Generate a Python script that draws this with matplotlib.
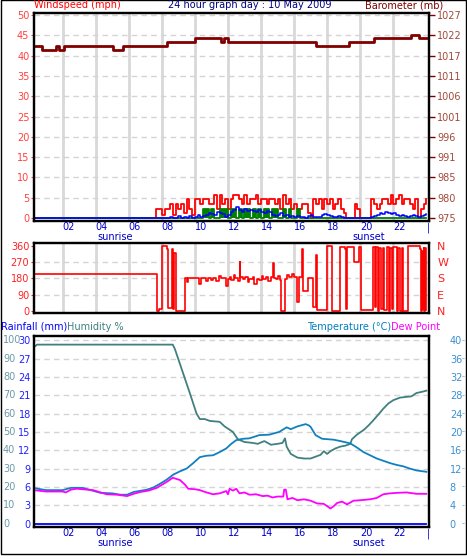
import numpy as np
import matplotlib
matplotlib.use('Agg')
import matplotlib.pyplot as plt
from matplotlib.patches import Rectangle
import matplotlib.transforms as mtransforms

# wind (mph), 10 minute samples 07:30 - 24:00 (calm before that)
wind_hours = np.linspace(7.5, 24, 100)
gust = [0, 2.3, 2.3, 0.8, 2.3, 2.3, 3.5, 0.8, 3.5, 2.3, 3.5, 1.2,
        4.6, 2.3, 0.8, 4.6, 4.6, 3.5, 4.6, 4.6, 3.5, 3.5, 5.7, 2.3,
        5.7, 3.5, 4.6, 2.3, 4.6, 5.7, 5.7, 4.6, 3.5, 5.7, 3.5, 4.6,
        4.6, 5.7, 3.5, 4.6, 4.6, 3.5, 4.6, 4.6, 3.5, 4.6, 2.3, 5.7,
        3.5, 4.6, 2.3, 3.5, 2.3, 2.3, 3.5, 3.5, 1.2, 0, 4.6, 3.5,
        4.6, 2.3, 4.6, 3.5, 4.6, 2.3, 3.5, 4.6, 2.3, 1.2, 0, 0,
        0, 3.5, 2.3, 0, 0, 0, 0, 4.6, 3.5, 2.3, 3.5, 4.6,
        4.6, 3.5, 5.7, 3.5, 4.6, 5.7, 3.5, 4.6, 4.6, 3.5, 2.3, 4.6,
        0, 2.3, 3.5, 4.6]
avg_speed = [0, 0, 0, 0, 0, 0, 0.3, 0, 0, 0.5, 0, 0.3,
             0, 0.5, 0, 0.3, 0.8, 0.3, 0.5, 0.8, 1.2, 1.0, 0.8, 1.5,
             1.2, 1.0, 0.3, 0.8, 1.5, 2.0, 2.8, 2.0, 1.5, 2.3, 1.8, 2.0,
             1.8, 1.5, 2.0, 1.5, 1.2, 1.8, 1.5, 0.8, 0.5, 0.8, 1.2, 0.5,
             0.8, 0.3, 0.5, 0.2, 0.5, 0.3, 0.2, 0, 0.5, 0.8, 0.3, 0.2,
             0.3, 0.8, 1.0, 0.8, 0.5, 0.3, 0.2, 0.5, 0.3, 0, 0, 0,
             0, 0, 0, 0, 0, 0, 0, 0.3, 0.5, 0.8, 1.2, 1.0,
             1.5, 1.2, 1.0, 1.2, 0.8, 0.5, 0.8, 0.5, 0.3, 0.5, 0.8, 0.5,
             0.3, 0.5, 0.8, 1.0]
wind_low = [0, 0, 0, 0, 0, 0, 0, 0, 0, 0, 0, 0,
            0, 0, 0, 0, 0, 0, 2.3, 2.3, 0, 2.3, 0, 0,
            2.3, 2.3, 2.3, 0, 2.3, 2.3, 0, 2.3, 0, 2.3, 2.3, 0,
            2.3, 0, 2.3, 0, 2.3, 2.3, 0, 2.3, 2.3, 0, 0, 2.3,
            0, 2.3, 0, 0, 2.3, 0, 0, 0, 0, 0, 0, 0,
            0, 0, 0, 0, 0, 0, 0, 0, 0, 0, 0, 0,
            0, 0, 0, 0, 0, 0, 0, 0, 0, 0, 0, 0,
            0, 0, 0, 0, 0, 0, 0, 0, 0, 0, 0, 0,
            0, 0, 0, 0]

# barometer (mb), change points
baro_hours = [0, 0.73, 1.60, 1.80, 2.10, 5.06, 5.63, 8.29, 10.0, 11.56,
              11.78, 11.98, 17.33, 19.32, 20.83, 23.07, 23.58, 24.2]
baro = [1019, 1018, 1019, 1018, 1019, 1018, 1019, 1020, 1021, 1020,
        1021, 1020, 1019, 1020, 1021, 1022, 1021, 1021]

# wind direction (deg), change points
dir_hours = [0, 7.73, 7.85, 7.99, 8.29, 8.36, 8.6, 8.66, 8.72, 8.85, 9.4,
             9.5, 9.6, 10.25, 10.4, 10.7, 10.8, 10.95, 11.1, 11.3, 11.45,
             11.55, 11.9, 12.0, 12.1, 12.2, 12.35, 12.45, 12.6, 12.7, 12.75,
             12.9, 13.05, 13.2, 13.3, 13.5, 13.6, 13.75, 13.9, 14.05, 14.15,
             14.3, 14.45, 14.6, 14.72, 14.78, 14.9, 15.05, 15.15, 15.23, 15.45,
             15.6, 15.7, 15.85, 16.0, 16.2, 16.3, 16.5, 16.55, 16.86, 17.16,
             17.33, 17.4, 17.97, 18.27, 18.78, 19.08, 19.15, 19.2, 19.62, 19.93,
             20.03, 20.75, 20.8, 20.9, 20.95, 21.05, 21.15, 21.25, 21.35, 21.45,
             21.6, 21.75, 21.8, 21.9, 22.0, 22.2, 22.3, 22.4, 22.5, 22.6,
             22.91, 23.62, 23.67, 23.72, 23.78, 23.83, 23.88, 23.93, 24.0]
direction = [203, 0, 10, 360, 340, 15, 340, 10, 320, 0, 180,
             160, 180, 150, 180, 165, 180, 170, 180, 165, 195,
             180, 140, 175, 190, 170, 200, 180, 165, 270, 185,
             175, 190, 160, 175, 185, 150, 175, 170, 195, 175,
             185, 165, 185, 265, 180, 175, 195, 170, 0, 175,
             200, 190, 205, 185, 50, 190, 340, 110, 180, 20,
             310, 5, 360, 0, 355, 340, 10, 355, 270, 355,
             5, 60, 355, 20, 355, 0, 350, 10, 345, 5,
             355, 0, 350, 10, 355, 0, 345, 0, 350, 0,
             360, 340, 0, 330, 10, 345, 0, 350, 5]

# humidity (%)
hum_hours = [0, 0.3, 0.45, 8.66, 8.8, 9.1, 9.4, 9.7, 9.9, 10.1, 10.3, 10.6,
             10.9, 11.5, 11.8, 12.3, 12.6, 13.0, 13.5, 13.8, 14.2, 14.6, 15.0,
             15.3, 15.45, 15.55, 15.8, 16.2, 16.6, 17.0, 17.3, 17.6, 17.8, 18.0,
             18.2, 18.5, 18.8, 19.1, 19.4, 19.5, 19.8, 20.2, 20.5, 20.8, 21.1,
             21.4, 21.7, 22.0, 22.4, 23.1, 23.4, 23.8, 24.0]
humidity = [95.5, 96.5, 97.6, 97.6, 95, 87, 79, 71, 65.5, 60, 57, 57,
            56, 55.5, 53, 50, 46, 44.5, 44, 43.5, 45, 43, 43.5,
            44, 46.5, 42, 38, 36, 35.5, 35.5, 36.5, 37.5, 39.5, 38,
            39.5, 41, 42, 42.5, 43.5, 46, 48.5, 51, 53.5, 56.4, 59.5,
            62.7, 65.5, 67.3, 68.7, 69.4, 71.2, 72, 72.5]

# temperature (C)
temp_hours = [0, 0.5, 1.0, 2.0, 2.5, 3.2, 3.8, 4.3, 5.0, 5.5, 5.9, 6.3, 7.1,
              7.5, 7.9, 8.3, 8.7, 9.1, 9.5, 9.9, 10.3, 10.7, 11.1, 11.5, 11.9,
              12.2, 12.5, 12.9, 13.3, 13.9, 14.5, 15.1, 15.55, 15.8, 16.2, 16.7,
              16.9, 17.0, 17.3, 17.7, 18.4, 18.8, 19.4, 19.8, 20.2, 20.6, 21.0,
              21.4, 21.8, 22.2, 22.6, 23.0, 23.4, 23.8, 24.0]
temperature = [8.0, 7.6, 7.3, 7.3, 7.8, 7.8, 7.2, 6.7, 6.6, 6.3, 6.3, 6.9, 7.4,
               7.9, 8.7, 9.6, 10.7, 11.4, 12.0, 13.2, 14.5, 14.8, 14.9, 15.6, 16.4,
               17.4, 18.2, 18.5, 18.6, 19.3, 19.4, 20.0, 21.0, 20.6, 21.2, 21.7,
               21.4, 21.1, 19.3, 18.5, 18.3, 18.0, 17.5, 16.6, 15.6, 14.9, 14.2,
               13.7, 13.2, 12.8, 12.5, 12.0, 11.6, 11.4, 11.3]

# dew point (C)
dew_hours = [0, 0.5, 1.0, 2.0, 2.2, 2.5, 2.85, 3.85, 4.3, 4.66, 5.3, 5.9, 6.3,
             6.7, 7.2, 7.7, 8.3, 8.66, 9.1, 9.4, 9.6, 10.0, 10.3, 10.7, 11.1,
             11.5, 11.9, 12.0, 12.1, 12.3, 12.5, 12.7, 13.0, 13.3, 13.7, 14.1,
             14.4, 14.7, 15.0, 15.35, 15.4, 15.5, 15.6, 15.9, 16.2, 16.6, 17.0,
             17.2, 17.4, 17.8, 18.0, 18.2, 18.4, 18.6, 18.9, 19.2, 19.6, 20.0,
             20.6, 21.0, 21.4, 21.8, 22.2, 22.8, 23.4, 24.0]
dew_point = [7.4, 7.2, 7.0, 7.0, 6.8, 7.4, 7.6, 7.3, 6.8, 6.4, 6.3, 6.0, 6.5,
             6.9, 7.2, 7.8, 9.1, 10.0, 9.5, 8.5, 7.6, 7.5, 7.3, 6.8, 6.4,
             6.6, 7.1, 6.4, 7.6, 7.2, 7.6, 6.6, 6.8, 6.3, 6.4, 6.0,
             6.1, 5.7, 5.9, 5.9, 7.4, 7.4, 5.3, 5.6, 5.1, 5.3, 5.0,
             4.7, 4.4, 4.3, 3.8, 3.3, 3.8, 4.5, 4.8, 4.2, 5.0, 5.1,
             5.3, 5.6, 6.4, 6.6, 6.7, 6.8, 6.5, 6.5]

# rainfall (mm)
rain_hours = [0, 24]
rain = [0, 0]

hour_ticks = [2, 4, 6, 8, 10, 12, 14, 16, 18, 20, 22, 24]
hour_labels = ['02', '04', '06', '08', '10', '12', '14', '16', '18', '20', '22', '|']

W, H = 467, 559
plt.rcParams['font.family'] = 'DejaVu Sans'
plt.rcParams['font.size'] = 7
fig = plt.figure(figsize=(W / 100, H / 100), dpi=100)


def box(left, top, right, bottom):
    return [left / W, 1 - bottom / H, (right - left) / W, (bottom - top) / H]


XL = (0.24, 24.16)
grid_col = '#d8d8d8'
dash_col = '#d4d4d4'
tick_blue = '#0000cc'


def style(ax, vgrid=True):
    ax.set_xlim(*XL)
    for s in ax.spines.values():
        s.set_linewidth(1.6)
    if vgrid:
        for h in hour_ticks[:-1]:
            ax.axvline(h, color=grid_col, lw=2, zorder=0)


def time_labels(ax, pad, sun_off):
    ax.set_xticks(hour_ticks)
    ax.set_xticklabels(hour_labels, color=tick_blue)
    for lab in ax.get_xticklabels():
        lab.set_ha('left')
    ax.tick_params(axis='x', length=0, pad=pad)
    ax.annotate('sunrise', xy=(5.17, 0), xycoords=('data', 'axes fraction'),
                xytext=(0, sun_off), textcoords='offset points',
                ha='center', va='center', color=tick_blue)
    ax.annotate('sunset', xy=(20.5, 0), xycoords=('data', 'axes fraction'),
                xytext=(0, sun_off), textcoords='offset points',
                ha='center', va='center', color=tick_blue)


# ---------------- top panel: wind + barometer
ax1 = fig.add_axes(box(33.5, 13, 429, 221))
style(ax1)
ax1.set_ylim(-0.74, 50.5)
ax1.set_yticks(range(0, 51, 5))
ax1.tick_params(axis='y', colors='#ff4040', length=2, pad=1)
for v in range(5, 51, 5):
    ax1.axhline(v, color=dash_col, lw=1, ls=(0, (4, 3)), zorder=0)
wh = np.r_[0, wind_hours]
ax1.plot(wh, np.r_[0, gust], color='#ff0000', lw=1.3, drawstyle='steps-post')
ax1.fill_between(wh, 0, np.r_[0, wind_low], step='post', color='#008000', lw=0)
ax1.plot(wh, np.r_[0, wind_low], color='#008000', lw=1.3, drawstyle='steps-post')
ax1.plot(wh, np.r_[0, avg_speed], color='#0000ff', lw=1.1, drawstyle='steps-post')
time_labels(ax1, 1.0, -11.8)

ax1b = ax1.twinx()
ax1b.set_xlim(*XL)
ax1b.set_ylim(975 + 1.04 * -0.74, 975 + 1.04 * 50.5)
bt = [975 + 5.2 * k for k in range(11)]
ax1b.set_yticks(bt)
ax1b.set_yticklabels([str(int(round(v))) for v in bt])
ax1b.tick_params(axis='y', colors='#800000', length=4, width=1, pad=2)
for lab in ax1b.get_yticklabels():
    lab.set_color('#a04a3a')
ax1b.plot(baro_hours, baro, color='#800000', lw=2, drawstyle='steps-post')
for s in ax1b.spines.values():
    s.set_linewidth(1.6)

# ---------------- middle panel: wind direction
ax2 = fig.add_axes(box(33.5, 243, 429, 313))
style(ax2)
ax2.set_ylim(-11, 375)
ax2.set_yticks([0, 90, 180, 270, 360])
ax2.tick_params(axis='y', colors='#ff2020', length=2, pad=1)
for v in [90, 180, 270]:
    ax2.axhline(v, color=dash_col, lw=1, ls=(0, (4, 3)), zorder=0)
ax2.set_xticks([])
ax2.plot(dir_hours, direction, color='#ff0000', lw=1.2, drawstyle='steps-post')
ax2b = ax2.twinx()
ax2b.set_ylim(-11, 375)
ax2b.set_yticks([0, 90, 180, 270, 360])
ax2b.set_yticklabels(['N', 'E', 'S', 'W', 'N'], color='#ff2020', fontsize=8)
ax2b.tick_params(axis='y', length=0, pad=6)
for s in ax2b.spines.values():
    s.set_linewidth(1.6)

# ---------------- bottom panel: humidity / rain / temperature / dew point
ax3 = fig.add_axes(box(33.5, 336, 429, 527))
style(ax3, vgrid=False)
ax3.set_ylim(-1.85, 102.3)
ax3.set_yticks(range(0, 101, 10))
ax3.set_yticklabels([str(v * 3 // 10) for v in range(0, 101, 10)], color='#2020ff')
ax3.tick_params(axis='y', length=0, pad=2)
for v in range(10, 101, 10):
    ax3.axhline(v, color=dash_col, lw=1, ls=(0, (4, 3)), zorder=0)
tr = mtransforms.blended_transform_factory(fig.transFigure, ax3.transData)
for v in range(0, 101, 10):
    ax3.text(3 / W, v, str(v), transform=tr, ha='left', va='center',
             color='#6a9aa8', clip_on=False)
ax3.plot(hum_hours, humidity, color='#408080', lw=1.3)
ax3.plot(np.array(rain_hours), np.array(rain) * 10 / 3, color='#0000ff', lw=1.3)
time_labels(ax3, 0.8, -11.3)

ax3b = ax3.twinx()
ax3b.set_xlim(*XL)
ax3b.set_ylim(-1.85 * 0.4, 102.3 * 0.4)
ax3b.set_yticks(range(0, 41, 4))
ax3b.tick_params(axis='y', length=0, pad=15, labelcolor='#3a8fd0')
tr2 = mtransforms.blended_transform_factory(fig.transFigure, ax3b.transData)
for v in range(0, 41, 4):
    ax3b.text(463 / W, v, '-', transform=tr2, ha='center', va='center',
              color='#7aaad0', fontsize=6, clip_on=False)
ax3b.plot(temp_hours, temperature, color='#1080c0', lw=1.3)
ax3b.plot(dew_hours, dew_point, color='#ff00ff', lw=1.3)
for s in ax3b.spines.values():
    s.set_linewidth(1.6)

# ---------------- headings
ty = 1 - 5.5 / H
fig.text(34 / W, ty, 'Windspeed (mph)', color='#ff0000', va='center', ha='left')
fig.text(250 / W, ty, '24 hour graph day : 10 May 2009', color='#000080',
         va='center', ha='center')
fig.text(443 / W, ty, 'Barometer (mb)', color='#800000', va='center', ha='right')
my = 1 - 326.5 / H
fig.text(1 / W, my, 'Rainfall (mm)', color='#0000ff', va='center', ha='left')
fig.text(67 / W, my, 'Humidity %', color='#408080', va='center', ha='left')
fig.text(391 / W, my, 'Temperature (\u00b0C)', color='#0080c0', va='center', ha='right')
fig.text(391 / W, my, 'Dew Point', color='#ff00ff', va='center', ha='left')

fig.patches.append(Rectangle((0.5 / W, 5.5 / H), 465 / W, 1 - 5.5 / H,
                             transform=fig.transFigure, fill=False,
                             edgecolor='black', lw=1))

fig.savefig('out.png', dpi=100)
